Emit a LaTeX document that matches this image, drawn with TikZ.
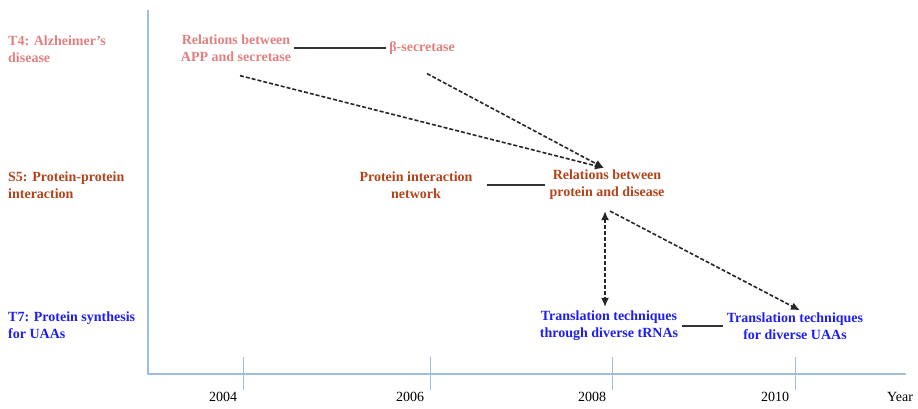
\documentclass[tikz,border=0pt]{standalone}
\usepackage{fontspec}
\setmainfont{Liberation Serif}
\usetikzlibrary{arrows.meta}
\definecolor{alzpink}{RGB}{226,128,128}
\definecolor{ppibrown}{RGB}{178,68,28}
\definecolor{uaablue}{RGB}{30,30,245}
\definecolor{axisblue}{RGB}{160,190,222}
\begin{document}
\begin{tikzpicture}[
  x=1pt, y=-1pt,
  topic/.style={anchor=west, align=left, inner sep=0pt, font=\fontsize{14}{17}\selectfont\bfseries},
  event/.style={align=center, inner sep=2pt, font=\fontsize{14}{17}\selectfont\bfseries},
  link/.style={line width=1.6pt, black!80},
  trend/.style={dashed, dash pattern=on 4pt off 2pt, line width=1.6pt, black!85, -{Latex[length=9pt,width=8pt]}},
  tick/.style={axisblue, line width=0.8pt}
]
  \useasboundingbox (0,0) rectangle (918,408);

  % axes
  \draw[axisblue, line width=1.2pt] (148,10) -- (148,374) -- (906,374);
  \foreach \x/\yr in {243/2004, 430/2006, 612/2008, 795/2010} {
    \draw[tick] (\x,357) -- (\x,390);
    \node[font=\fontsize{14}{16}\selectfont] (yr\yr) at (\x-20,397) {\yr};
  }
  \node[font=\fontsize{14}{16}\selectfont] (year) at (900,397) {Year};

  % topics
  \node[topic, text=alzpink] (t4) at (8,49) {T4: Alzheimer’s\\disease};
  \node[topic, text=ppibrown] (s5) at (8,185) {S5: Protein-protein\\interaction};
  \node[topic, text=uaablue] (t7) at (8,325) {T7: Protein synthesis\\for UAAs};

  % events
  \node[event, text=alzpink] (rapp) at (236,48) {Relations between\\APP and secretase};
  \node[event, text=alzpink] (bsec) at (422,48) {β-secretase};
  \node[event, text=ppibrown] (pin) at (416,185) {Protein interaction\\network};
  \node[event, text=ppibrown] (rpd) at (607,185) {Relations between\\protein and disease};
  \node[event, text=uaablue] (ttr) at (609,326) {Translation techniques\\through diverse tRNAs};
  \node[event, text=uaablue] (tdu) at (795,326) {Translation techniques\\for diverse UAAs};

  \draw[link, shorten <=1pt, shorten >=1pt] (rapp.east) -- (bsec.west);
  \draw[link, shorten <=12pt, shorten >=2pt] (pin.east) -- (rpd.west);
  \draw[link, shorten <=2pt, shorten >=2pt] (ttr.east) -- (tdu.west);

  \draw[trend] ([xshift=4pt,yshift=-12pt]rapp.south) -- ([xshift=-3pt]rpd.north);
  \draw[trend] ([xshift=5pt,yshift=-17pt]bsec.south) -- ([xshift=-3pt]rpd.north);
  \draw[trend, {Latex[length=9pt,width=8pt]}-{Latex[length=9pt,width=8pt]}, shorten >=2pt]
    ([xshift=-2pt,yshift=-9pt]rpd.south) -- ([xshift=-2pt]rpd.south |- ttr.north);
  \draw[trend] ([xshift=3pt,yshift=-9pt]rpd.south) -- ([xshift=5pt]tdu.north);
\end{tikzpicture}
\end{document}
